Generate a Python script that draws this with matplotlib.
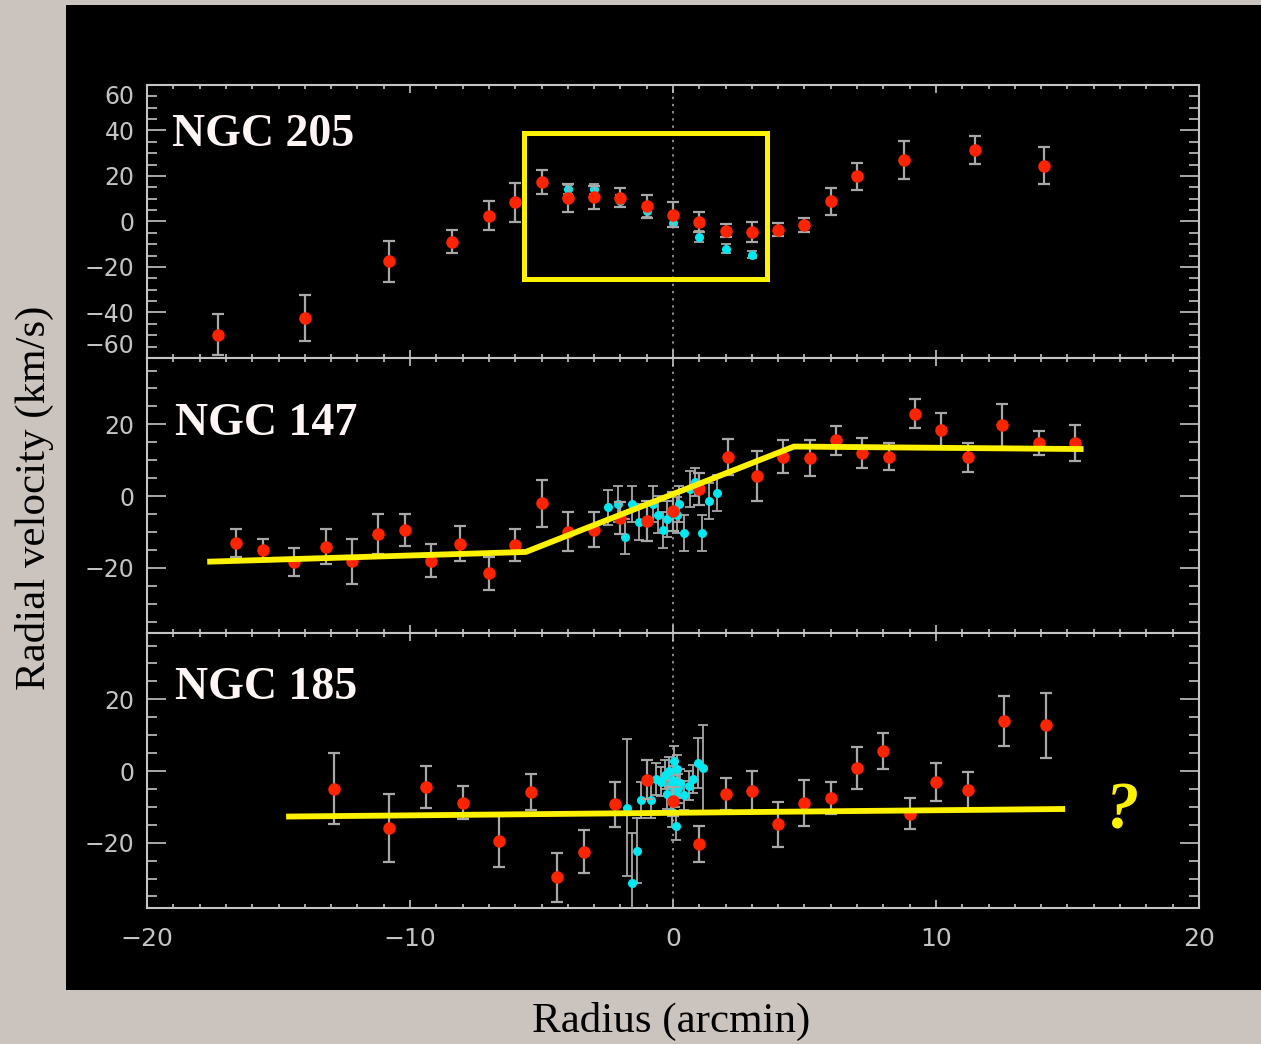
import matplotlib.pyplot as plt
from matplotlib.patches import Rectangle

# radial velocity profiles of the three dwarf ellipticals
# red = long-slit points, cyan = inner points (radius in arcmin, v in km/s)
x205 = [-17.3, -14.0, -10.8, -8.4, -7.0, -6.0, -5.0, -4.0, -3.0, -2.0, -1.0,
        0.0, 1.0, 2.0, 3.0, 4.0, 5.0, 6.0, 7.0, 8.8, 11.5, 14.1]
v205 = [-49.7, -42.5, -17.4, -8.8, 2.6, 8.4, 17.3, 10.3, 10.7, 10.5, 6.7,
        3.0, -0.3, -4.0, -4.5, -3.6, -1.5, 8.8, 19.8, 27.1, 31.5, 24.6]
e205 = [9, 10, 9, 5, 6.5, 8.5, 5.4, 6, 5, 4, 5,
        5.5, 4.5, 3, 4.4, 2.8, 3, 6, 6, 8.3, 6.2, 8]
xc205 = [-4.0, -3.0, -2.0, -1.0, 0.0, 1.0, 2.0, 3.0]
vc205 = [14.2, 14.3, 9.0, 4.5, -0.5, -6.7, -12.0, -14.6]
ec205 = [2, 2, 2.5, 2.5, 2, 2.5, 2, 1.5]

x147 = [-16.6, -15.6, -14.4, -13.2, -12.2, -11.2, -10.2, -9.2, -8.1, -7.0, -6.0,
        -5.0, -4.0, -3.0, -2.0, -1.0, 0.0, 1.0, 2.1, 3.2, 4.2, 5.2, 6.2, 7.2,
        8.2, 9.2, 10.2, 11.2, 12.5, 13.9, 15.3]
v147 = [-13.1, -15.0, -18.4, -14.1, -18.2, -10.5, -9.4, -18.0, -13.3, -21.6, -13.6,
        -2.0, -9.9, -9.4, -6.1, -6.9, -4.3, 1.9, 11.0, 5.6, 11.0, 10.7, 15.5, 12.1,
        11.0, 23.0, 18.3, 10.8, 19.7, 14.8, 14.8]
e147 = [4, 3, 4, 5, 6.3, 5.6, 4.5, 4.7, 4.9, 4.5, 4.5,
        6.6, 5.4, 4.9, 4.5, 5.6, 5.5, 4.4, 5, 7, 4.7, 5, 4, 4.2,
        3.8, 4.1, 4.8, 4, 6.1, 3.3, 5]
xc147 = [-2.46, -2.10, -1.81, -1.56, -1.30, -0.76, -0.57, -0.37, -0.23,
         0.14, 0.24, 0.41, 0.64, 0.84, 1.10, 1.37, 1.66]
vc147 = [-3.2, -2.2, -11.3, -2.2, -7.3, -2.2, -5.2, -9.4, -6.3,
         -5.2, -2.2, -10.3, 2.0, 3.9, -10.3, -1.3, 0.8]
ec147 = [4.8, 5, 4.9, 5, 5, 5, 5.2, 5, 5, 5, 5, 5, 5, 4, 5, 5, 5]

x185 = [-12.9, -10.8, -9.4, -8.0, -6.6, -5.4, -4.4, -3.4, -2.2, -1.0, 0.0, 1.0,
        2.0, 3.0, 4.0, 5.0, 6.0, 7.0, 8.0, 9.0, 10.0, 11.2, 12.6, 14.2]
v185 = [-5.0, -15.9, -4.4, -8.8, -19.5, -5.8, -29.7, -22.5, -9.3, -2.4, -8.5, -20.3,
        -6.4, -5.6, -14.9, -8.8, -7.6, 0.9, 5.5, -11.9, -3.2, -5.4, 14.0, 12.7]
e185 = [9.9, 9.5, 5.8, 4.7, 7.3, 5, 6.7, 6, 6.3, 5.5, 4, 5,
        4.4, 5.6, 6.2, 6.4, 4.5, 5.8, 5, 4.3, 5.3, 5.1, 6.9, 9]
xc185 = [-1.76, -1.57, -1.38, -1.22, -0.82, -0.63, -0.45, -0.30, -0.22, -0.14,
         -0.08, -0.04, 0.0, 0.04, 0.08, 0.11, 0.15, 0.20, 0.27, 0.40, 0.61,
         0.77, 0.96, 1.15]
vc185 = [-10.2, -31.2, -22.2, -8.2, -8.2, -2.2, -3.0, -1.0, -6.5, -0.1,
         -4.0, -11.5, -2.5, 2.9, -6.0, -15.2, 0.6, -4.8, -3.4, -6.8, -4.1,
         -2.2, 2.2, 0.8]
ec185 = [19, 14, 9, 5, 5, 4.5, 4, 4, 4, 4, 4, 4, 4, 4, 4, 4, 4, 4, 4, 4, 4,
         4, 7, 12]

# fitted rotation curves and highlighted region
fit147_x = [-17.6, -5.6, 4.6, 15.5]
fit147_v = [-18.3, -15.6, 13.8, 13.1]
fit185_x = [-14.6, 14.8]
fit185_v = [-12.7, -10.6]
box205 = [-5.67, -25.5, 3.57, 38.7]  # x0, y0, x1, y1

names = ['NGC 205', 'NGC 147', 'NGC 185']
yticks = [[-60, -40, -20, 0, 20, 40, 60], [-20, 0, 20], [-20, 0, 20]]
ylims = [(-60, 60), (-38.2, 38.5), (-38.2, 38.5)]

RED = '#ff2400'
CYAN = '#00e8f0'
YEL = '#fff200'
GREY = '#c4c4c4'
EBAR = '#a8a8a8'
BG = '#cbc4be'

fig = plt.figure(figsize=(12.61, 10.44), dpi=100, facecolor=BG)

# black plotting board behind the panels
board = fig.add_axes([66 / 1261, 1 - 990 / 1044, 1195 / 1261, 985 / 1044],
                     facecolor='black', zorder=-5)
board.set_xticks([])
board.set_yticks([])
for s in board.spines.values():
    s.set_visible(False)

left, width = 0.1166, 0.8342
rects = [[left, 0.6571, width, 0.2615],
         [left, 0.3937, width, 0.2634],
         [left, 0.1303, width, 0.2634]]
data = [(x205, v205, e205, xc205, vc205, ec205),
        (x147, v147, e147, xc147, vc147, ec147),
        (x185, v185, e185, xc185, vc185, ec185)]
label_pos = [(0.024, 0.777), (0.027, 0.72), (0.027, 0.76)]

axes = []
for i, r in enumerate(rects):
    ax = fig.add_axes(r, facecolor='black')
    xr, vr, er, xc, vc, ec = data[i]

    ax.axvline(0, color='#8c8c8c', lw=1.4, ls=(0, (1.2, 2.5)), zorder=1)
    ax.errorbar(xc, vc, yerr=ec, fmt='o', color=CYAN, mec=CYAN, ms=5.5,
                ecolor=EBAR, elinewidth=1.3, capsize=3.5, capthick=1.3, zorder=3)
    ax.errorbar(xr, vr, yerr=er, fmt='o', color=RED, mec=RED, ms=8,
                ecolor=EBAR, elinewidth=1.6, capsize=4, capthick=1.6, zorder=4)

    ax.set_xlim(-20, 20)
    ax.set_ylim(*ylims[i])
    ax.set_xticks([-20, -10, 0, 10, 20])
    ax.set_xticks(range(-20, 21), minor=True)
    ax.set_yticks(yticks[i])
    lo, hi = ylims[i]
    ax.set_yticks([v for v in range(-60, 61, 5) if lo <= v <= hi], minor=True)

    ax.tick_params(which='both', direction='in', colors=GREY, top=True, right=True,
                   width=1.2)
    ax.tick_params(axis='y', which='major', length=14, pad=9, labelsize=17)
    ax.tick_params(axis='y', which='minor', length=7)
    ax.tick_params(axis='x', which='major', length=6, pad=14, labelsize=18)
    ax.tick_params(axis='x', which='minor', length=3)
    for s in ax.spines.values():
        s.set_color(GREY)
        s.set_linewidth(1.5)
    if i < 2:
        ax.tick_params(axis='x', labelbottom=False)

    ax.text(label_pos[i][0], label_pos[i][1], names[i], transform=ax.transAxes,
            family='Liberation Serif', fontweight='bold', fontsize=33,
            color='#fff5f5', ha='left', va='baseline', zorder=6)
    axes.append(ax)

# keep the end labels of the top panel inside the frame
labs = axes[0].get_yticklabels()
labs[0].set_va('bottom')
labs[-1].set_va('top')

# highlighted inner region of NGC 205
x0, y0, x1, y1 = box205
axes[0].add_patch(Rectangle((x0, y0), x1 - x0, y1 - y0, fill=False,
                            ec=YEL, lw=3.6, zorder=5))

axes[1].plot(fit147_x, fit147_v, color=YEL, lw=4.2, zorder=5, solid_joinstyle='miter')
axes[2].plot(fit185_x, fit185_v, color=YEL, lw=4.2, zorder=5)
axes[2].text(17.1, -11.4, '?', color=YEL, fontsize=48, family='Liberation Serif',
             fontweight='bold', fontstyle='italic', ha='center', va='center',
             clip_on=False, zorder=6)

fig.text(0.027, 0.523, 'Radial velocity (km/s)', rotation=90, family='Liberation Serif',
         fontsize=31, color='black', ha='center', va='center')
fig.text(0.532, 0.022, 'Radius (arcmin)', family='Liberation Serif',
         fontsize=31, color='black', ha='center', va='center')

plt.savefig('out.png', dpi=100, facecolor=BG)
